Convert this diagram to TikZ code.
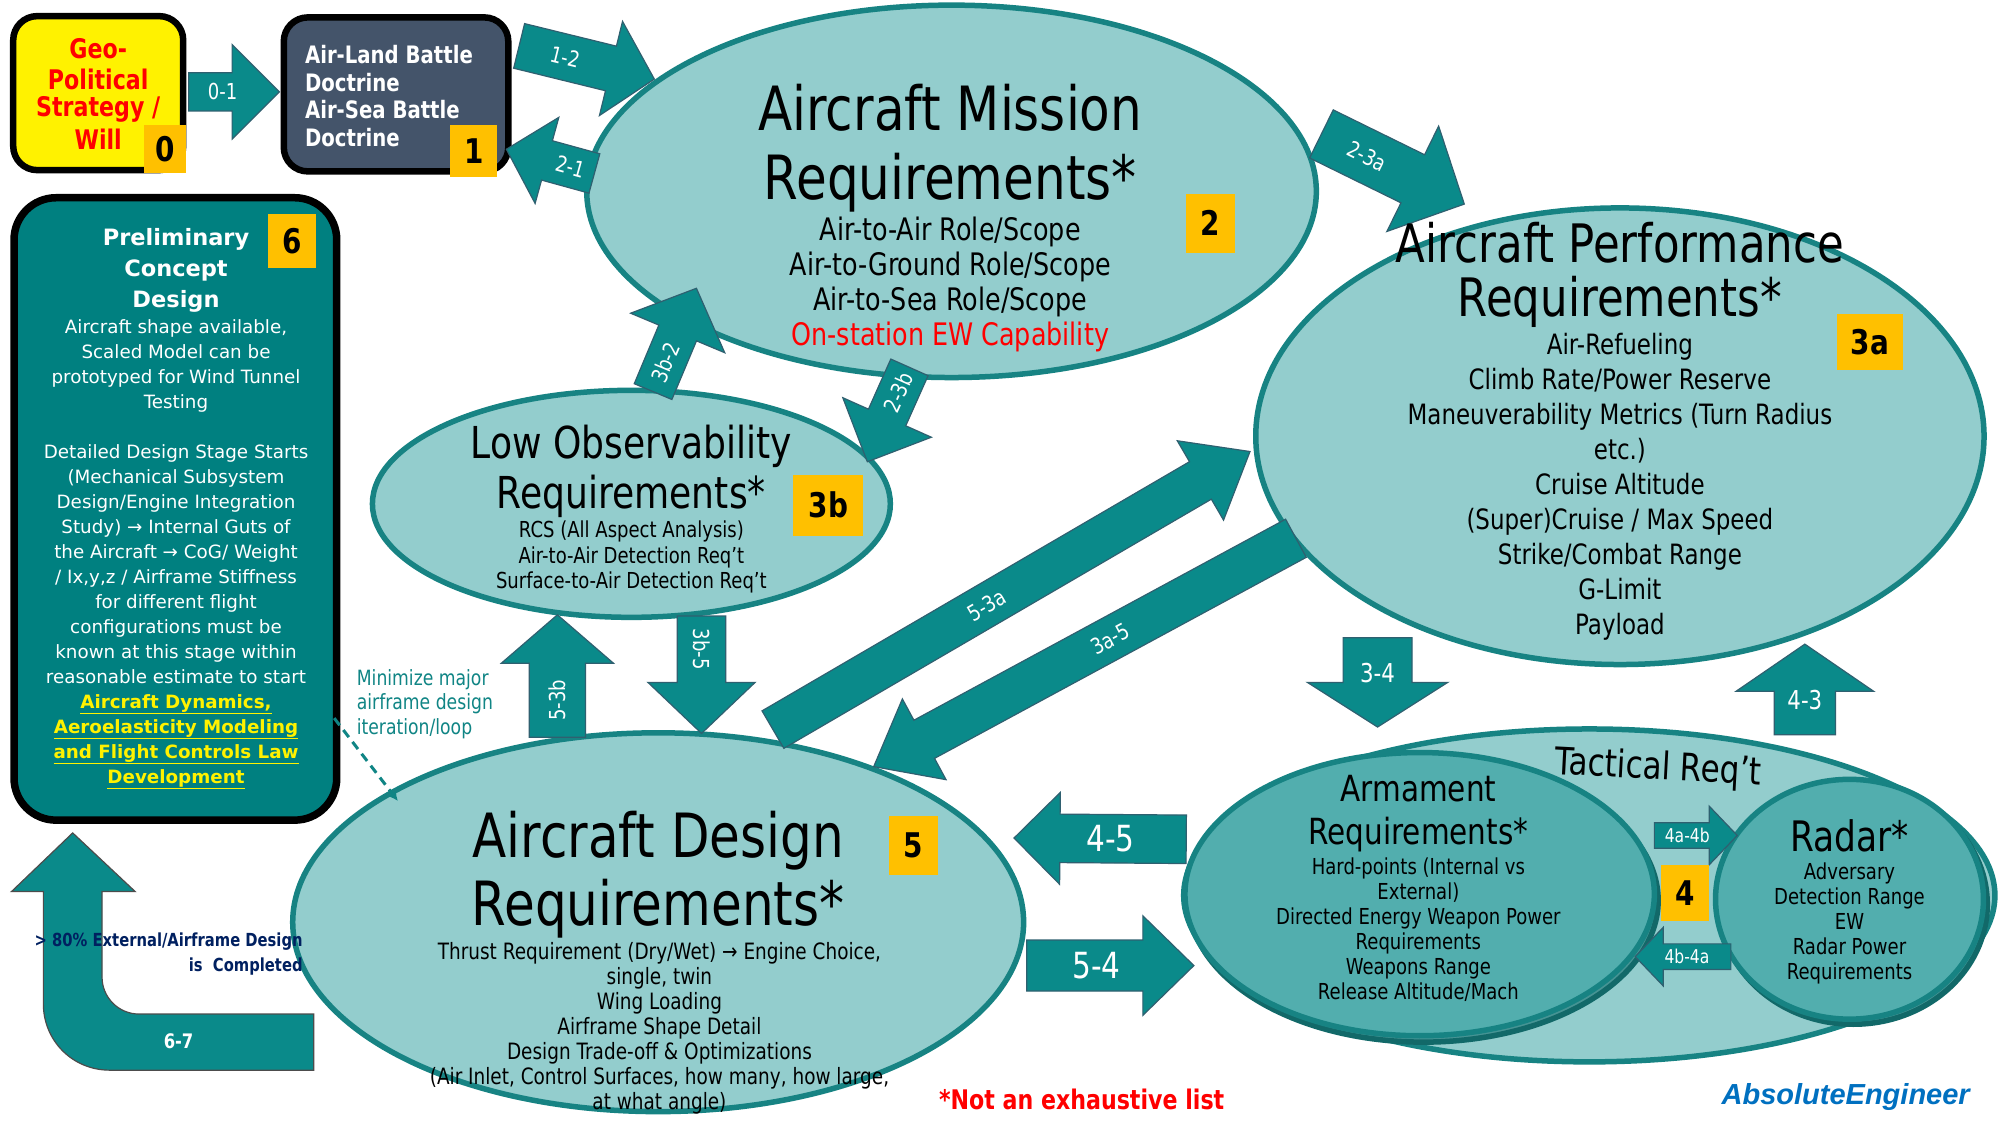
\documentclass[tikz,border=0pt]{standalone}
\usepackage{fontspec}
\setmainfont{DejaVu Sans}
\newfontfamily\cf[FakeStretch=0.82]{DejaVu Sans}
\newfontfamily\lib{Liberation Sans}
\usetikzlibrary{shapes.geometric,calc,arrows.meta}
\definecolor{ellfill}{HTML}{93CDCD}
\definecolor{ellline}{HTML}{178383}
\definecolor{armfill}{HTML}{52AEAE}
\definecolor{arrfill}{HTML}{0A8A8A}
\definecolor{arredge}{HTML}{2F6070}
\definecolor{boxteal}{HTML}{008080}
\definecolor{slate}{HTML}{44546A}
\definecolor{badgec}{HTML}{FFC000}
\definecolor{navy}{HTML}{002060}
\definecolor{aeblue}{HTML}{0070C0}
\definecolor{mintext}{HTML}{108585}
\newcommand\fs[2]{\fontsize{#1}{#2}\selectfont}
% block arrow: start, end, half shaft, half head, head length (in picture units), label, label options
\newcommand\barrow[7]{%
  \pgfmathsetmacro\bw{#3*1.2755}%
  \pgfmathsetmacro\bh{#4*1.2755}%
  \pgfmathsetmacro\bl{#5*1.2755}%
  \coordinate (bb) at ($(#2)!\bl pt!(#1)$);
  \draw[arr] ($(#1)!\bw pt!90:(#2)$) -- ($(bb)!\bw pt!-90:(#1)$) -- ($(bb)!\bh pt!-90:(#1)$) -- (#2)
     -- ($(bb)!\bh pt!90:(#1)$) -- ($(bb)!\bw pt!90:(#1)$) -- ($(#1)!\bw pt!-90:(#2)$) -- cycle;
  \path (#1) -- (bb) node[midway, alab, #7] {#6};
}
\begin{document}
\begin{tikzpicture}[x=1.2755pt,y=-1.2755pt,
  box/.style={draw=black, line width=6.5pt, rounded corners=24pt, inner sep=0pt},
  ell/.style={ellipse, draw=ellline, line width=5.5pt, fill=ellfill, inner sep=0pt, outer sep=0pt},
  badge/.style={fill=badgec, inner sep=0pt, font=\cf\bfseries\fs{34}{40}, text=black},
  arr/.style={fill=arrfill, draw=arredge, line width=1.2pt, line join=miter},
  alab/.style={text=white, font=\cf\fs{22}{26}, inner sep=0pt},
  etitle/.style={align=center, text=black, inner sep=0pt},
  b0txt/.style={font=\cf\bfseries\fs{27}{30}, text=red, inner sep=0pt},
  b1txt/.style={font=\cf\bfseries\fs{24}{27.5}, text=white, anchor=west, inner sep=0pt}]
\fill[white] (0,0) rectangle (1568,882);
\useasboundingbox (0,0) rectangle (1568,882);

% ---------- boxes ----------
\node[box, fill=yellow, minimum width=170pt, minimum height=154pt] (b0) at (77,73) {};
\node[box, fill=slate, minimum width=224.5pt, minimum height=154pt] (b1) at (310.5,74) {};
\node[box, fill=boxteal, line width=7.5pt, rounded corners=42pt, minimum width=322.7pt, minimum height=622.4pt] (b6) at (137.5,399) {};

% ---------- ellipses ----------
\node[ell, minimum width=729.6pt, minimum height=372.4pt] (e2) at (746,150) {};
\node[ell, minimum width=728.3pt, minimum height=456.6pt] (e3a) at (1270,342) {};
\node[ell, minimum width=517.9pt, minimum height=227pt] (e3b) at (495,395) {};
\node[ell, minimum width=730.9pt, minimum height=378.8pt] (e5) at (516,723) {};
\node[ell, minimum width=811.2pt, minimum height=332.9pt] (tac) at (1246,702) {};
\node[ell, fill=armfill!85!black, draw=ellline!80!black, minimum width=469.4pt, minimum height=283.2pt] (armsh) at (1116,706) {};
\node[ell, fill=armfill, minimum width=469.4pt, minimum height=283.2pt] (arm) at (1113,701) {};
\node[ell, fill=armfill!85!black, draw=ellline!80!black, minimum width=267.9pt, minimum height=239.8pt] (radsh) at (1453,709) {};
\node[ell, fill=armfill, minimum width=267.9pt, minimum height=239.8pt] (rad) at (1450,705) {};

% ---------- arrow end points ----------
\coordinate (a01s) at (148,72);   \coordinate (a01e) at (219,72);
\coordinate (a12s) at (407,36);   \coordinate (a12e) at (513,62);
\coordinate (a21s) at (466,136);  \coordinate (a21e) at (397,117);
\coordinate (a23as) at (1036,105); \coordinate (a23ae) at (1148,160);
\coordinate (a3b2s) at (512,307); \coordinate (a3b2e) at (546,226);
\coordinate (a23bs) at (713,288); \coordinate (a23be) at (680,362);
\coordinate (a53bs) at (437,578); \coordinate (a53be) at (437,482);
\coordinate (a3b5s) at (550,483); \coordinate (a3b5e) at (550,575);
\coordinate (a53as) at (606,572); \coordinate (a53ae) at (980,354);
\coordinate (a3a5s) at (1016,422); \coordinate (a3a5e) at (685,601);
\coordinate (a34s) at (1080,500); \coordinate (a34e) at (1080,570);
\coordinate (a43s) at (1415,576); \coordinate (a43e) at (1415,505);
\coordinate (a45s) at (930,658);  \coordinate (a45e) at (795,657);
\coordinate (a54s) at (805,757);  \coordinate (a54e) at (936,757);
\coordinate (a4abs) at (1297,655); \coordinate (a4abe) at (1362,655);
\coordinate (a4bas) at (1357,750); \coordinate (a4bae) at (1282,750);

\barrow{a01s}{a01e}{15}{37}{37}{0-1}{pos=0.78}
\barrow{a12s}{a12e}{18}{38}{35}{1-2}{sloped}
\barrow{a21s}{a21e}{16}{35}{33}{2-1}{sloped}
\barrow{a23as}{a23ae}{21}{46}{45}{2-3a}{sloped}
\barrow{a3b2s}{a3b2e}{16}{40}{38}{3b-2}{sloped}
\barrow{a23bs}{a23be}{16}{38}{38}{2-3b}{sloped}
\barrow{a53bs}{a53be}{22}{44}{38}{5-3b}{sloped}
\barrow{a3b5s}{a3b5e}{19}{42}{40}{3b-5}{sloped}
\barrow{a53as}{a53ae}{17}{36}{45}{5-3a}{sloped}
\barrow{a3a5s}{a3a5e}{17}{36}{45}{3a-5}{sloped}
\barrow{a34s}{a34e}{27}{55}{35}{3-4}{pos=0.8, font=\cf\fs{26}{30}}
\barrow{a43s}{a43e}{24}{54}{37}{4-3}{pos=0.8, font=\cf\fs{26}{30}}
\barrow{a45s}{a45e}{19}{36}{36}{4-5}{pos=0.6, font=\cf\fs{36}{40}}
\barrow{a54s}{a54e}{20}{39}{40}{5-4}{pos=0.6, font=\cf\fs{36}{40}}
\barrow{a4abs}{a4abe}{10}{23}{22}{4a-4b}{pos=0.6, font=\cf\fs{19}{22}}
\barrow{a4bas}{a4bae}{10}{23}{22}{4b-4a}{pos=0.65, font=\cf\fs{19}{22}}

% bent arrow 6-7
\coordinate (c67s) at (246,816); \coordinate (c67e) at (57,653);
\draw[arr, draw=gray!60!black] (246,839) -- (86,839) .. controls (57,839) and (34,816) .. (34,787)
  -- (34,699) -- (9,699) -- (c67e) -- (106,699) -- (80,699) -- (80,766)
  .. controls (80,782) and (93,795) .. (109,795) -- (246,795) -- cycle;
\node[font=\cf\bfseries\fs{20}{24}, text=white] (l67) at (140,816) {6-7};

% dashed link
\coordinate (dls) at (262,563); \coordinate (dle) at (312,628);
\draw[mintext, line width=3pt, dash pattern=on 9pt off 6pt, -{Latex[length=9pt,width=9pt]}] (dls) -- (dle);

% ---------- texts ----------
\node[b0txt] (b0t1) at (77,38) {Geo-};
\node[b0txt] (b0t2) at (77,62) {Political};
\node[b0txt] (b0t3) at (77,86) {Strategy /};
\node[b0txt] (b0t4) at (77,109) {Will};
\node[b1txt] (b1t1) at (239,43) {Air-Land Battle};
\node[b1txt] (b1t2) at (239,65) {Doctrine};
\node[b1txt] (b1t3) at (239,86) {Air-Sea Battle};
\node[b1txt] (b1t4) at (239,108) {Doctrine};
\node[font=\bfseries\fs{22.5}{30.6}, text=white, align=center] (b6t) at (138,212) {Preliminary\\Concept\\Design};
\node[font=\fs{18.3}{25}, text=white, align=center] (b6d) at (138,434.5) {Aircraft shape available,\\Scaled Model can be\\prototyped for Wind Tunnel\\Testing\\[25pt]Detailed Design Stage Starts\\(Mechanical Subsystem\\Design/Engine Integration\\Study) → Internal Guts of\\the Aircraft → CoG/ Weight\\/ Ix,y,z / Airframe Stiffness\\for different flight\\configurations must be\\known at this stage within\\reasonable estimate to start\\{\bfseries\color{yellow}\underline{Aircraft Dynamics,}}\\{\bfseries\color{yellow}\underline{Aeroelasticity Modeling}}\\{\bfseries\color{yellow}\underline{and Flight Controls Law}}\\{\bfseries\color{yellow}\underline{Development}}};

\node[etitle, font=\cf\fs{61}{69}] (t2) at (745,116) {Aircraft Mission\\Requirements*};
\node[etitle, font=\cf\fs{31}{35}] (d2) at (745,223) {Air-to-Air Role/Scope\\Air-to-Ground Role/Scope\\Air-to-Sea Role/Scope\\\textcolor{red}{On-station EW Capability}};

\node[etitle, font=\cf\fs{53}{59}] (t3a1) at (1270,190) {Aircraft Performance};
\node[etitle, font=\cf\fs{53}{59}] (t3a2) at (1270,237) {Requirements*};
\node[etitle, font=\cf\fs{28}{35}] (d3a) at (1270,382) {Air-Refueling\\Climb Rate/Power Reserve\\Maneuverability Metrics (Turn Radius\\etc.)\\Cruise Altitude\\(Super)Cruise / Max Speed\\Strike/Combat Range\\G-Limit\\Payload};

\node[etitle, font=\cf\fs{44}{48.5}] (t3b1) at (495,350) {Low Observability};
\node[etitle, font=\cf\fs{44}{48.5}] (t3b2) at (495,389) {Requirements*};
\node[etitle, font=\cf\fs{22}{25.5}] (d3b) at (495,437) {RCS (All Aspect Analysis)\\Air-to-Air Detection Req’t\\Surface-to-Air Detection Req’t};

\node[etitle, font=\cf\fs{61}{68}] (t5) at (516,686) {Aircraft Design\\Requirements*};
\node[etitle, font=\cf\fs{22.5}{25}] (d5) at (517,806) {Thrust Requirement (Dry/Wet) → Engine Choice,\\single, twin\\Wing Loading\\Airframe Shape Detail\\Design Trade-off \& Optimizations\\(Air Inlet, Control Surfaces, how many, how large,\\at what angle)};

\node[etitle, font=\cf\fs{38}{42}, rotate=-3] (ttac) at (1300,603) {Tactical Req’t};
\node[etitle, font=\cf\fs{36}{43}] (tarm) at (1112,638) {Armament\\Requirements*};
\node[etitle, font=\cf\fs{22}{25}] (darm) at (1112,729) {Hard-points (Internal vs\\External)\\Directed Energy Weapon Power\\Requirements\\Weapons Range\\Release Altitude/Mach};
\node[etitle, font=\cf\fs{42}{46}] (trad) at (1450,655) {Radar*};
\node[etitle, font=\cf\fs{22}{25}] (drad) at (1450,724) {Adversary\\Detection Range\\EW\\Radar Power\\Requirements};

\node[font=\cf\fs{21}{24.5}, text=mintext, align=left, anchor=west] (mt) at (277,552) {Minimize major\\airframe design\\iteration/loop};
\node[font=\cf\bfseries\fs{18}{25.5}, text=navy, align=right, anchor=east] (pct) at (240,748) {> 80\% External/Airframe Design\\is\ \ Completed};
\node[font=\cf\bfseries\fs{27}{30}, text=red] (ne) at (848,862) {*Not an exhaustive list};
\node[font=\lib\bfseries\itshape\fs{29}{32}, text=aeblue] (ae) at (1447,860) {AbsoluteEngineer};

% ---------- badges ----------
\node[badge, minimum width=42pt, minimum height=48.5pt] (n0) at (129.5,117) {0};
\node[badge, minimum width=47pt, minimum height=52pt] (n1) at (371.5,118.5) {1};
\node[badge, minimum width=48.5pt, minimum height=58.7pt] (n2) at (949,175) {2};
\node[badge, minimum width=66pt, minimum height=56pt] (n3a) at (1466,268) {3a};
\node[badge, minimum width=70pt, minimum height=61pt] (n3b) at (649.5,396) {3b};
\node[badge, minimum width=48.5pt, minimum height=53.6pt] (n6) at (229,189) {6};
\node[badge, minimum width=48.5pt, minimum height=58.7pt] (n5) at (716,663) {5};
\node[badge, minimum width=48.5pt, minimum height=56pt] (n4) at (1321,700) {4};
\end{tikzpicture}
\end{document}
